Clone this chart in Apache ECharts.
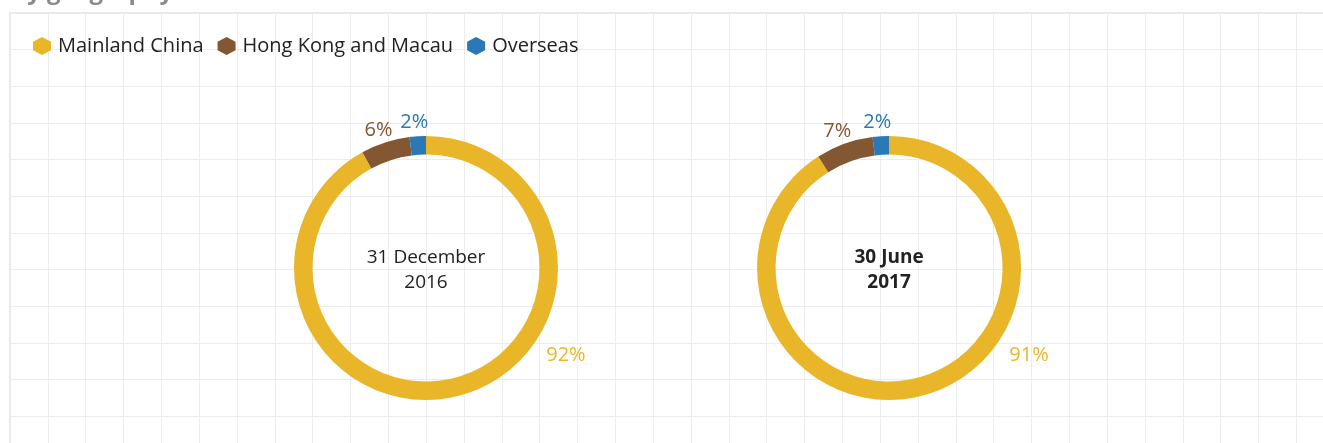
<!DOCTYPE html>
<html>
<head>
<meta charset="utf-8">
<title>By geography</title>
<script src="https://cdn.jsdelivr.net/npm/echarts@6/dist/echarts.min.js"></script>
<style>
    html, body { margin: 0; padding: 0; background: #fff; }
    #chart { width: 1323px; height: 443px; }
</style>
</head>
<body>
<div id="chart"></div>
<script>
var categories = ['Mainland China', 'Hong Kong and Macau', 'Overseas'];
var periods = ['31 December\n2016', '30 June\n2017'];
var dec2016 = [92, 6, 2];
var jun2017 = [91, 7, 2];
var colors = ['#e9b62a', '#835731', '#2a78b5'];

var chartTitle = 'By geography';
var FONT = '"Open Sans", "Noto Sans", sans-serif';
var hexIcon = 'path://M50,0 L100,26 L100,74 L50,100 L0,74 L0,26 Z';

var centersX = ['32.2%', '67.2%'];
var centerY = 268;
var outerR = 132, innerR = 113.5;

var myChart = echarts.init(document.getElementById('chart'));

// mid angle of each slice, degrees clockwise from 12 o'clock
function midAngles(values) {
    var total = values.reduce(function (a, b) { return a + b; }, 0), acc = 0;
    return values.map(function (v) {
        var mid = (acc + v / 2) / total * 360;
        acc += v;
        return mid;
    });
}

var allValues = [dec2016, jun2017];

function labelPos(seriesIndex, dataIndex) {
    var cx = parseFloat(centersX[seriesIndex]) / 100 * myChart.getWidth();
    var ang, r;
    if (dataIndex === 0) {
        // big slice label sits at lower right, not at its middle
        ang = 122; r = outerR + 33;
    } else {
        ang = midAngles(allValues[seriesIndex])[dataIndex] - 1; r = outerR + 14;
    }
    var rad = ang * Math.PI / 180;
    return { x: cx + Math.sin(rad) * r, y: centerY - Math.cos(rad) * r };
}

function makePie(values, idx) {
    return {
        type: 'pie',
        center: [centersX[idx], centerY],
        radius: [innerR, outerR],
        startAngle: 90,
        clockwise: true,
        avoidLabelOverlap: false,
        silent: true,
        label: {
            show: true,
            position: 'outside',
            formatter: '{c}%',
            fontFamily: FONT,
            fontSize: 20,
            color: 'inherit'
        },
        labelLine: { show: false },
        labelLayout: function (params) {
            var p = labelPos(params.seriesIndex, params.dataIndex);
            return { x: p.x, y: p.y, align: 'center', verticalAlign: 'middle' };
        },
        data: categories.map(function (name, i) {
            return { name: name, value: values[i], itemStyle: { color: colors[i] }, label: { color: colors[i] } };
        })
    };
}

var option = {
    backgroundColor: '#fff',
    animation: false,
    color: colors,
    grid: {
        left: 10, top: 13, width: 1362, height: 440,
        outerBoundsMode: 'none',
        show: true, borderColor: '#e8e8e8', borderWidth: 2, backgroundColor: '#fff'
    },
    xAxis: {
        type: 'value', min: 0, max: 36, interval: 1,
        axisLine: { show: false }, axisTick: { show: false }, axisLabel: { show: false },
        splitLine: { lineStyle: { color: '#ececec', width: 1 } }
    },
    yAxis: {
        type: 'value', min: 0, max: 12, interval: 1,
        axisLine: { show: false }, axisTick: { show: false }, axisLabel: { show: false },
        splitLine: { lineStyle: { color: '#ececec', width: 1 } }
    },
    graphic: [{
        type: 'text', x: 11, y: -8, silent: true,
        style: {
            text: chartTitle, fill: '#8a8a8a', verticalAlign: 'middle',
            font: 'bold 24px ' + FONT
        }
    }],
    title: periods.map(function (p, i) {
        return {
            text: p,
            left: centersX[i],
            top: centerY + 2,
            textAlign: 'center',
            textVerticalAlign: 'middle',
            padding: 0,
            textStyle: {
                fontFamily: FONT, fontSize: 19, lineHeight: 25,
                fontWeight: i === 1 ? 'bold' : 'normal', color: '#222'
            }
        };
    }),
    legend: {
        data: categories,
        left: 33, top: 36, padding: 0,
        icon: hexIcon,
        itemWidth: 18, itemHeight: 20, itemGap: 14,
        selectedMode: false,
        textStyle: { fontFamily: FONT, fontSize: 20, color: '#222', padding: [0, 0, 0, 2] }
    },
    series: [makePie(dec2016, 0), makePie(jun2017, 1)]
};

myChart.setOption(option);
</script>
</body>
</html>
